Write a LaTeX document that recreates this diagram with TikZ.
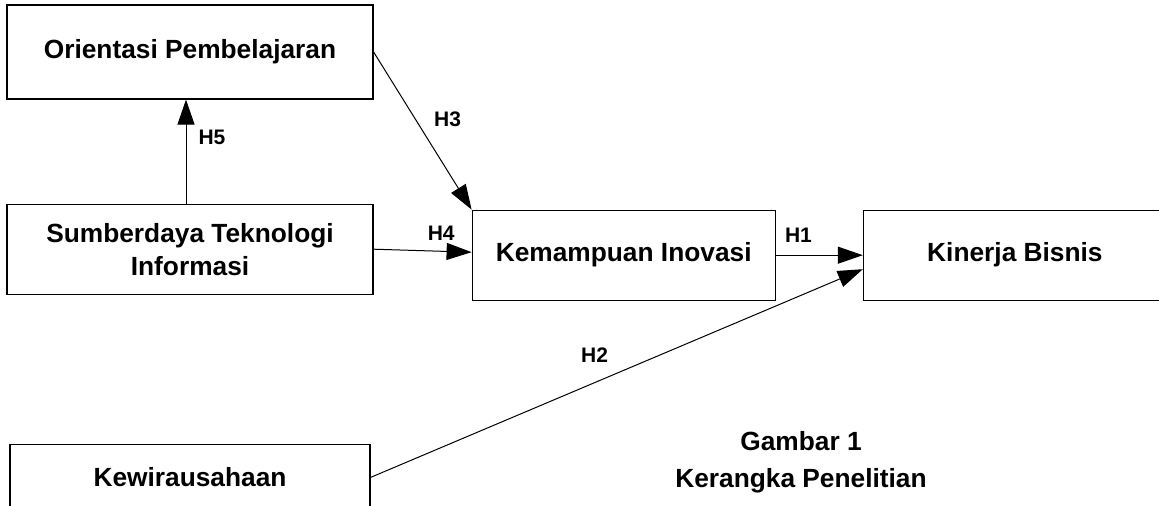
\documentclass[tikz,border=0pt]{standalone}
\usepackage{fontspec}
\setmainfont{Liberation Sans}
\usetikzlibrary{positioning,arrows.meta}

\tikzset{
	varbox/.style={draw, line width=0.6pt, align=center, inner sep=0pt,
		font=\fontsize{13.15}{16.5}\selectfont\bfseries},
	widebox/.style={varbox, minimum width=183pt, minimum height=46pt},
	midbox/.style={varbox, minimum width=151.5pt, minimum height=45pt},
	hyp/.style={-{Triangle[length=12.5pt,width=8.5pt]}, line width=0.5pt},
	hlabel/.style={font=\fontsize{10.5}{12}\selectfont\bfseries, inner sep=1pt},
}

\begin{document}
\begin{tikzpicture}[x=0.5pt,y=-0.5pt]
		\useasboundingbox (0,0) rectangle (1159,506);
		\node[widebox, minimum height=47pt] (op) at (190,52) {Orientasi Pembelajaran};
		\node[widebox, minimum height=45pt, below=52pt of op] (sti) {Sumberdaya Teknologi\\Informasi};
		\node[midbox, right=49pt of sti, yshift=-3pt] (ki) {Kemampuan Inovasi};
		\node[midbox, right=43.5pt of ki] (kb) {Kinerja Bisnis};
		\node[varbox, minimum width=180pt, minimum height=33pt, below=74.5pt of sti] (kw) {Kewirausahaan};
		\node[varbox, draw=none, font=\fontsize{13.15}{18.5}\selectfont\bfseries] (caption) at (801,462) {Gambar 1\\Kerangka Penelitian};

		\draw[hyp] ([xshift=-2pt]sti.north) -- node[hlabel, pos=0.635, right=5pt] (h5) {H5} ([xshift=-2pt]op.south);
		\draw[hyp] (op.east) -- node[hlabel, pos=0.43, right=8pt] (h3) {H3} (ki.north west);
		\draw[hyp] (sti.east) -- node[hlabel, pos=0.69, above=4pt] (h4) {H4} ([yshift=1.5pt]ki.west);
		\draw[hyp] (ki.east) -- node[hlabel, pos=0.26, above=5pt] (h1) {H1} (kb.west);
		\draw[hyp] (kw.east) -- node[hlabel, pos=0.455, above=9pt] (h2) {H2} ([yshift=-7pt]kb.west);
	\end{tikzpicture}
\end{document}
